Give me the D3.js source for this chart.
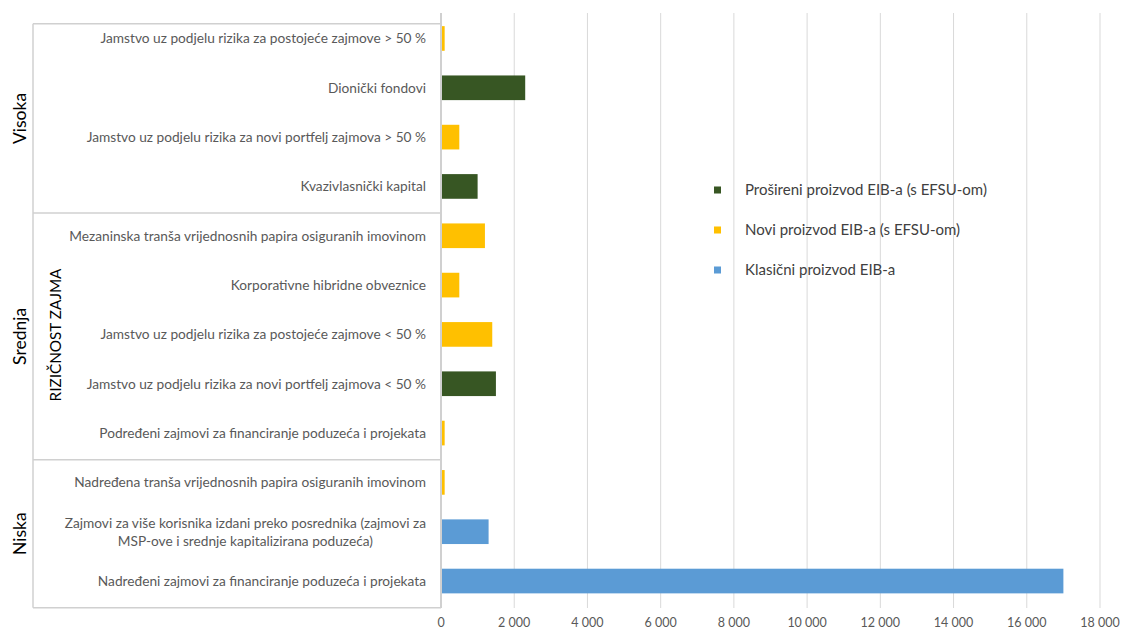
<!DOCTYPE html>
<html>
<head>
<meta charset="utf-8">
<script src="https://cdn.jsdelivr.net/npm/d3@7"></script>
<style>
  html, body { margin: 0; padding: 0; background: #fff; }
  svg { display: block; font-family: Lato, "Open Sans", sans-serif; }
</style>
</head>
<body>
<svg id="chart" width="1121" height="630"></svg>
<script>
// ---- data ----
const categories = [
  "Jamstvo uz podjelu rizika za postojeće zajmove > 50 %",
  "Dionički fondovi",
  "Jamstvo uz podjelu rizika za novi portfelj zajmova > 50 %",
  "Kvazivlasnički kapital",
  "Mezaninska tranša vrijednosnih papira osiguranih imovinom",
  "Korporativne hibridne obveznice",
  "Jamstvo uz podjelu rizika za postojeće zajmove < 50 %",
  "Jamstvo uz podjelu rizika za novi portfelj zajmova < 50 %",
  "Podređeni zajmovi za financiranje poduzeća i projekata",
  "Nadređena tranša vrijednosnih papira osiguranih imovinom",
  "Zajmovi za više korisnika izdani preko posrednika (zajmovi za|MSP-ove i srednje kapitalizirana poduzeća)",
  "Nadređeni zajmovi za financiranje poduzeća i projekata"
];
const seriesNames = [
  "Prošireni proizvod EIB-a (s EFSU-om)",
  "Novi proizvod EIB-a (s EFSU-om)",
  "Klasični proizvod EIB-a"
];
const prosireni = [0, 2300, 0, 1000, 0, 0, 0, 1500, 0, 0, 0, 0];
const novi      = [100, 0, 500, 0, 1200, 500, 1400, 0, 100, 100, 0, 0];
const klasicni  = [0, 0, 0, 0, 0, 0, 0, 0, 0, 0, 1300, 17000];
const groups = ["Visoka", "Srednja", "Niska"];
const groupSizes = [4, 5, 3];
const axisTitle = "RIZIČNOST ZAJMA";
const xTicks = [0, 2000, 4000, 6000, 8000, 10000, 12000, 14000, 16000, 18000];

const colors = ["#375623", "#FFC000", "#5B9BD5"];
const seriesValues = [prosireni, novi, klasicni];

// ---- scales ----
const svg = d3.select("#chart");
const x = d3.scaleLinear().domain([0, 18000]).range([441, 1100]);
const y = d3.scaleBand().domain(categories).range([13.8, 605.7])
  .paddingInner(0.5).paddingOuter(0.25);

// gridlines
svg.append("g").selectAll("line").data(xTicks.slice(1)).join("line")
  .attr("x1", d => x(d)).attr("x2", d => x(d))
  .attr("y1", 13).attr("y2", 608)
  .attr("stroke", "#D9D9D9").attr("stroke-width", 1);

// bars
seriesValues.forEach((vals, si) => {
  svg.append("g").selectAll("rect")
    .data(categories.map((c, i) => ({c, v: vals[i]})).filter(d => d.v > 0))
    .join("rect")
    .attr("x", x(0))
    .attr("y", d => y(d.c))
    .attr("width", d => x(d.v) - x(0))
    .attr("height", y.bandwidth())
    .attr("fill", colors[si]);
});

// vertical axis line at zero
svg.append("line")
  .attr("x1", x(0)).attr("x2", x(0)).attr("y1", 13).attr("y2", 608)
  .attr("stroke", "#D0D0D0").attr("stroke-width", 2);

// category box
const step = y.step();
const bandTop = c => y(c) - step * y.paddingInner() / 2;
const boxLeft = 33, boxRight = x(0);
const boundaries = [];
let idx = 0;
boundaries.push(y.range()[0] + 10);
groupSizes.forEach(n => { idx += n; boundaries.push(idx < categories.length ? bandTop(categories[idx]) + 2 : y.range()[1] + 2); });
svg.append("g").selectAll("line").data(boundaries).join("line")
  .attr("x1", boxLeft).attr("x2", boxRight)
  .attr("y1", d => d).attr("y2", d => d)
  .attr("stroke", "#D0D0D0").attr("stroke-width", 1.5);
svg.append("line")
  .attr("x1", boxLeft).attr("x2", boxLeft)
  .attr("y1", boundaries[0]).attr("y2", boundaries[boundaries.length - 1])
  .attr("stroke", "#D0D0D0").attr("stroke-width", 1.5);

// category labels
const labelRight = 426;
const catFont = 13.7;
categories.forEach(c => {
  const lines = c.split("|");
  const cy = y(c) + y.bandwidth() / 2;
  const g = svg.append("g");
  if (lines.length === 1) {
    g.append("text").attr("x", labelRight).attr("y", cy).attr("dy", "0.35em")
      .attr("text-anchor", "end").attr("font-size", catFont).attr("fill", "#595959").text(c);
  } else {
    const t = lines.map((l, i) => g.append("text")
      .attr("y", cy + (i - (lines.length - 1) / 2) * 18).attr("dy", "0.35em")
      .attr("text-anchor", "middle").attr("font-size", catFont).attr("fill", "#595959").text(l));
    const w = d3.max(t, s => s.node().getComputedTextLength());
    t.forEach(s => s.attr("x", labelRight - w / 2));
  }
});

// group labels
groups.forEach((gname, i) => {
  const cy = (boundaries[i] + boundaries[i + 1]) / 2;
  svg.append("text")
    .attr("transform", `translate(26,${cy}) rotate(-90)`)
    .attr("text-anchor", "middle").attr("font-size", 17.5).attr("fill", "#000").text(gname);
});

// axis title
svg.append("text")
  .attr("transform", `translate(61,335) rotate(-90)`)
  .attr("text-anchor", "middle").attr("font-size", 15.3).attr("fill", "#000").text(axisTitle);

// x tick labels
svg.append("g").selectAll("text").data(xTicks).join("text")
  .attr("x", d => x(d)).attr("y", 627)
  .attr("text-anchor", "middle").attr("font-size", 12.5).attr("fill", "#595959")
  .text(d => d3.format(",")(d).replace(/,/g, " "));

// legend
const legendY = [190, 230, 270];
seriesNames.forEach((n, i) => {
  svg.append("rect").attr("x", 714).attr("y", legendY[i] - 3.5)
    .attr("width", 7).attr("height", 7).attr("fill", colors[i]);
  svg.append("text").attr("x", 745).attr("y", legendY[i]).attr("dy", "0.35em")
    .attr("font-size", 15).attr("fill", "#404040").text(n);
});
</script>
</body>
</html>
